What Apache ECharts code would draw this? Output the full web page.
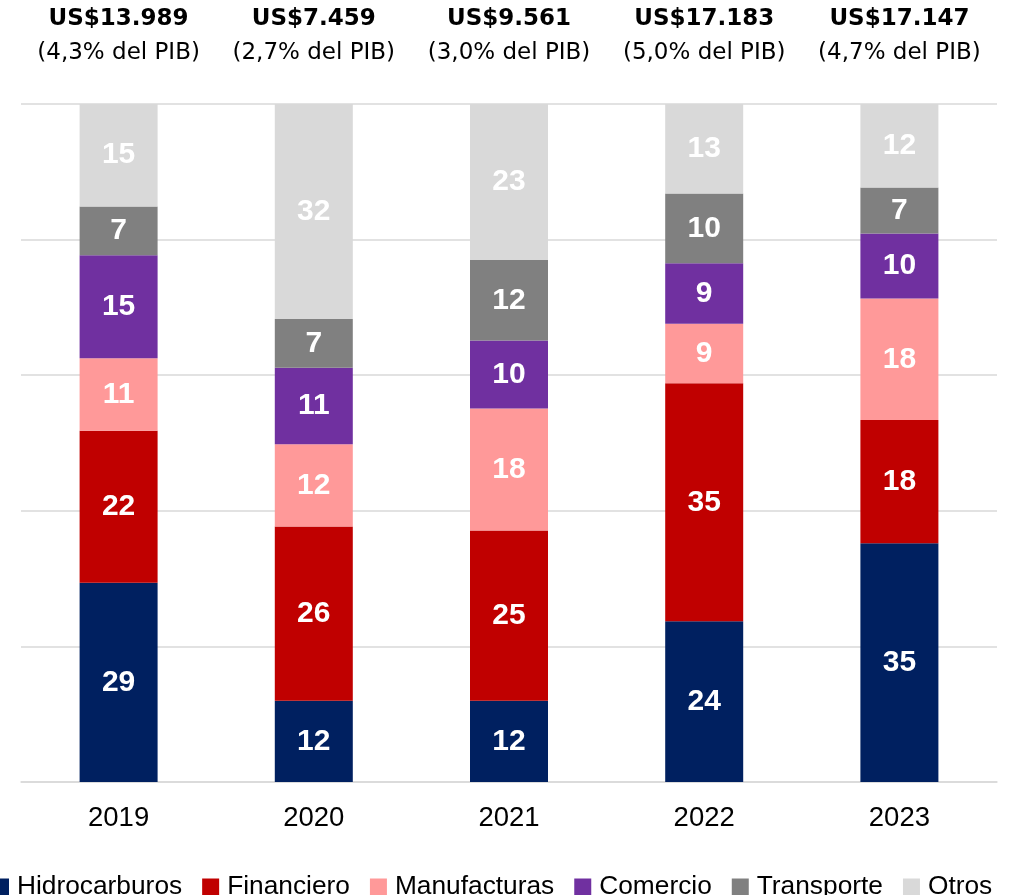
<!DOCTYPE html>
<html>
<head>
<meta charset="utf-8">
<title>IED por sector</title>
<script src="https://cdn.jsdelivr.net/npm/echarts@6/dist/echarts.min.js"></script>
<style>
  html, body { margin: 0; padding: 0; background: #fff; }
  #chart { width: 1009px; height: 895px; }
</style>
</head>
<body>
<div id="chart"></div>
<script>
// años y totales
var years = ['2019', '2020', '2021', '2022', '2023']
var totals = ['US$13.989', 'US$7.459', 'US$9.561', 'US$17.183', 'US$17.147']
var pib = ['4,3% del PIB', '2,7% del PIB', '3,0% del PIB', '5,0% del PIB', '4,7% del PIB']

// participación por sector (%)
var hidrocarburos = [29.4, 12.0, 12.0, 23.7, 35.2]
var financiero = [22.4, 25.7, 25.1, 35.1, 18.2]
var manufacturas = [10.7, 12.1, 18.0, 8.8, 17.9]
var comercio = [15.2, 11.3, 10.0, 8.9, 9.6]
var transporte = [7.2, 7.2, 11.9, 10.3, 6.8]
var otros = [15.1, 31.7, 23.0, 13.2, 12.4]

var sectors = [
  { name: 'Hidrocarburos', data: hidrocarburos, color: '#002060' },
  { name: 'Financiero', data: financiero, color: '#C00000' },
  { name: 'Manufacturas', data: manufacturas, color: '#FF9999' },
  { name: 'Comercio', data: comercio, color: '#7030A0' },
  { name: 'Transporte', data: transporte, color: '#808080' },
  { name: 'Otros', data: otros, color: '#D9D9D9' }
]

var chart = echarts.init(document.getElementById('chart'))

var options = {
  animation: false,
  textStyle: { fontFamily: 'Liberation Sans, Arial, sans-serif' },
  grid: { left: 21, right: 12, top: 104, bottom: 113 },
  legend: {
    left: -13,
    top: 868,
    width: 1100,
    itemWidth: 17,
    itemHeight: 17,
    itemGap: 20,
    icon: 'rect',
    textStyle: {
      fontSize: 26.3,
      color: '#000',
      lineHeight: 28,
      padding: [0, 0, 0, 3]
    }
  },
  xAxis: [
    {
      type: 'category',
      data: years,
      axisLine: { lineStyle: { color: '#d9d9d9', width: 1.5 } },
      axisTick: { show: false },
      axisLabel: { fontSize: 27.5, color: '#000', margin: 22 }
    },
    {
      type: 'category',
      position: 'top',
      data: years,
      axisLine: { show: false },
      axisTick: { show: false },
      axisLabel: {
        margin: 34,
        formatter: function(value, index) {
          return '{a|' + totals[index] + '}\n{b|(' + pib[index] + ')}'
        },
        rich: {
          a: { fontFamily: 'DejaVu Sans', fontWeight: 'bold', fontSize: 23, color: '#000', lineHeight: 34 },
          b: { fontFamily: 'DejaVu Sans', fontSize: 23, color: '#000', lineHeight: 34 }
        }
      }
    }
  ],
  yAxis: {
    type: 'value',
    min: 0,
    max: 100,
    interval: 20,
    axisLabel: { show: false },
    axisLine: { show: false },
    axisTick: { show: false },
    splitLine: { lineStyle: { color: '#d9d9d9', width: 1.5 } }
  },
  series: sectors.map(function(s) {
    return {
      name: s.name,
      type: 'bar',
      stack: 'total',
      barWidth: 78,
      data: s.data,
      itemStyle: { color: s.color },
      label: {
        show: true,
        position: 'inside',
        color: '#fff',
        fontWeight: 'bold',
        fontSize: 30,
        formatter: function(p) {
          return Math.round(p.value)
        }
      }
    }
  })
}

chart.setOption(options)
</script>
</body>
</html>
